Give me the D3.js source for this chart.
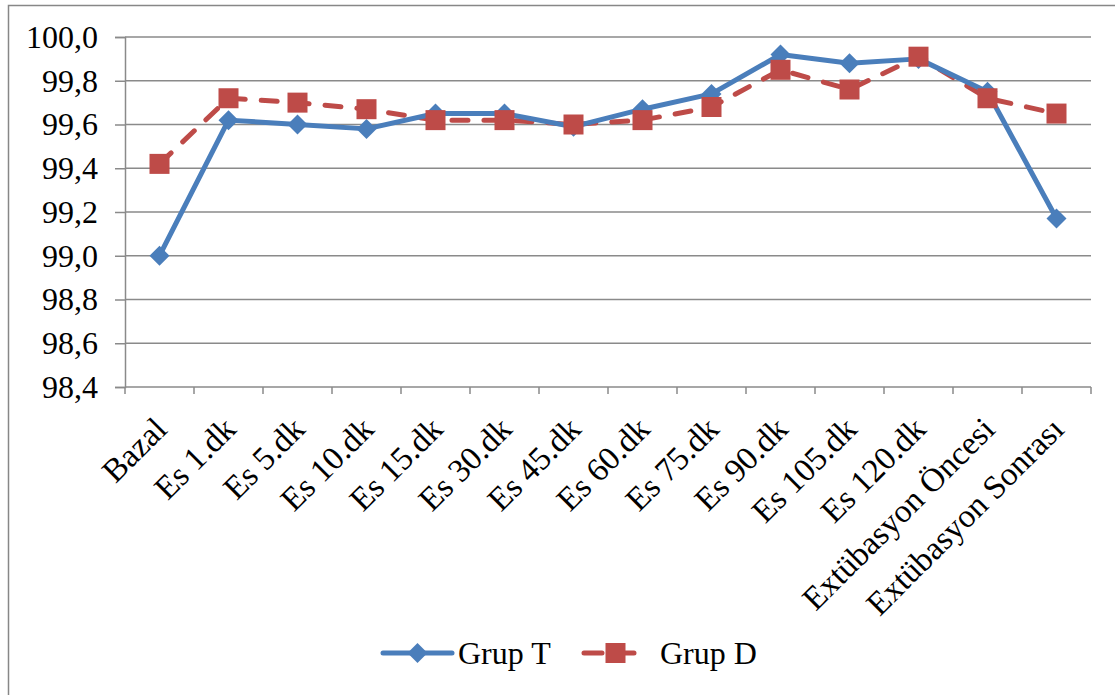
<!DOCTYPE html>
<html>
<head>
<meta charset="utf-8">
<script src="https://cdn.jsdelivr.net/npm/d3@7"></script>
<style>
  html, body { margin: 0; padding: 0; background: #fff; }
  svg { display: block; }
  svg text { font-family: "Liberation Serif", "Times New Roman", serif !important; fill: #000; }
</style>
</head>
<body>
<svg id="chart" width="1115" height="695"></svg>
<script>
// Time points of the measurement
const categories = [
  "Bazal", "Es 1.dk", "Es 5.dk", "Es 10.dk", "Es 15.dk", "Es 30.dk", "Es 45.dk",
  "Es 60.dk", "Es 75.dk", "Es 90.dk", "Es 105.dk", "Es 120.dk",
  "Extübasyon Öncesi", "Extübasyon Sonrası"
];
// Group means
const grupT = [99.00, 99.62, 99.60, 99.58, 99.65, 99.65, 99.59, 99.67, 99.74, 99.92, 99.88, 99.90, 99.75, 99.17];
const grupD = [99.42, 99.72, 99.70, 99.67, 99.62, 99.62, 99.60, 99.62, 99.68, 99.85, 99.76, 99.91, 99.72, 99.65];
const yTicks = [98.4, 98.6, 98.8, 99.0, 99.2, 99.4, 99.6, 99.8, 100.0];
const seriesNames = ["Grup T", "Grup D"];

const FONT = '"Liberation Serif", "Times New Roman", serif';
const svg = d3.select("#chart");
const W = 1115, H = 695;
const plot = { left: 125, right: 1091, top: 37, bottom: 387 };

// outer frame
svg.append("rect")
  .attr("x", 8.5).attr("y", 5.5)
  .attr("width", W + 20).attr("height", H + 20)
  .attr("fill", "none").attr("stroke", "#878787").attr("stroke-width", 1.5);

const x = d3.scaleBand().domain(categories).range([plot.left, plot.right]).padding(0);
const y = d3.scaleLinear().domain([98.4, 100.0]).range([plot.bottom, plot.top]);
const fmt = v => d3.format(".1f")(v).replace(".", ",");

// horizontal gridlines
svg.append("g").selectAll("line").data(yTicks.filter(v => v > 98.4)).join("line")
  .attr("x1", plot.left).attr("x2", plot.right)
  .attr("y1", d => y(d)).attr("y2", d => y(d))
  .attr("stroke", "#8a8a8a").attr("stroke-width", 1.5);

// y axis
const yAxis = svg.append("g").attr("transform", `translate(${plot.left},0)`)
  .call(d3.axisLeft(y).tickValues(yTicks).tickFormat(fmt).tickSize(10).tickPadding(17))
  .attr("font-family", FONT).attr("font-size", 32);
yAxis.select(".domain").attr("stroke", "#8a8a8a").attr("stroke-width", 1.5);
yAxis.selectAll(".tick line").attr("stroke", "#8a8a8a").attr("stroke-width", 1.5);
yAxis.selectAll(".tick text")
  .attr("font-family", FONT).attr("font-size", 32).attr("fill", "#000");

// x axis with ticks at category boundaries
const xg = svg.append("g").attr("transform", `translate(0,${plot.bottom})`)
  .attr("font-family", FONT).attr("font-size", 33);
xg.append("line").attr("x1", plot.left).attr("x2", plot.right)
  .attr("stroke", "#8a8a8a").attr("stroke-width", 1.5);
const boundaries = categories.map(c => x(c)).concat([plot.right]);
xg.selectAll("line.tk").data(boundaries).join("line").attr("class", "tk")
  .attr("x1", d => d).attr("x2", d => d).attr("y1", 0).attr("y2", 7)
  .attr("stroke", "#8a8a8a").attr("stroke-width", 1.5);
xg.selectAll("text").data(categories).join("text")
  .attr("transform", d => `translate(${x(d) + x.bandwidth() / 2 + 1},${36}) rotate(-45)`)
  .attr("text-anchor", "end")
  .attr("dy", "0.35em")
  .text(d => d);

const cx = c => x(c) + x.bandwidth() / 2;
const blue = "#4a7ebb", red = "#be4b48";

// Grup D (dashed, squares)
const lineGen = d3.line().x((d, i) => cx(categories[i])).y(d => y(d));
svg.append("path").datum(grupD).attr("d", lineGen)
  .attr("fill", "none").attr("stroke", red).attr("stroke-width", 5)
  .attr("stroke-dasharray", "16,16").attr("stroke-linecap", "round").attr("stroke-linejoin", "round");

// Grup T (solid, diamonds)
svg.append("path").datum(grupT).attr("d", lineGen)
  .attr("fill", "none").attr("stroke", blue).attr("stroke-width", 5)
  .attr("stroke-linejoin", "round");

const diamond = s => `M0,${-s}L${s},0L0,${s}L${-s},0Z`;
svg.append("g").selectAll("path").data(grupT).join("path")
  .attr("transform", (d, i) => `translate(${cx(categories[i])},${y(d)})`)
  .attr("d", diamond(10)).attr("fill", blue);

svg.append("g").selectAll("rect").data(grupD).join("rect")
  .attr("x", (d, i) => cx(categories[i]) - 10).attr("y", d => y(d) - 10)
  .attr("width", 20).attr("height", 20).attr("fill", red);

// legend
const leg = svg.append("g").attr("transform", "translate(0,653)")
  .attr("font-family", FONT).attr("font-size", 32);
const legendItems = [
  { name: seriesNames[0], color: blue, x0: 383, x1: 452, dash: null, marker: "diamond" },
  { name: seriesNames[1], color: red, x0: 584, x1: 647, dash: "18,14", marker: "square" }
];
legendItems.forEach(it => {
  leg.append("line").attr("x1", it.x0).attr("x2", it.x1)
    .attr("stroke", it.color).attr("stroke-width", 5).attr("stroke-linecap", "round")
    .attr("stroke-dasharray", it.dash);
  const m = (it.x0 + it.x1) / 2;
  if (it.marker === "diamond") {
    leg.append("path").attr("transform", `translate(${m},0)`).attr("d", diamond(10)).attr("fill", it.color);
  } else {
    leg.append("rect").attr("x", m - 10).attr("y", -10).attr("width", 20).attr("height", 20).attr("fill", it.color);
  }
  leg.append("text").attr("x", it.x1 + (it.marker === "square" ? 13 : 6)).attr("dy", "0.35em")
    .text(it.name);
});
</script>
</body>
</html>
